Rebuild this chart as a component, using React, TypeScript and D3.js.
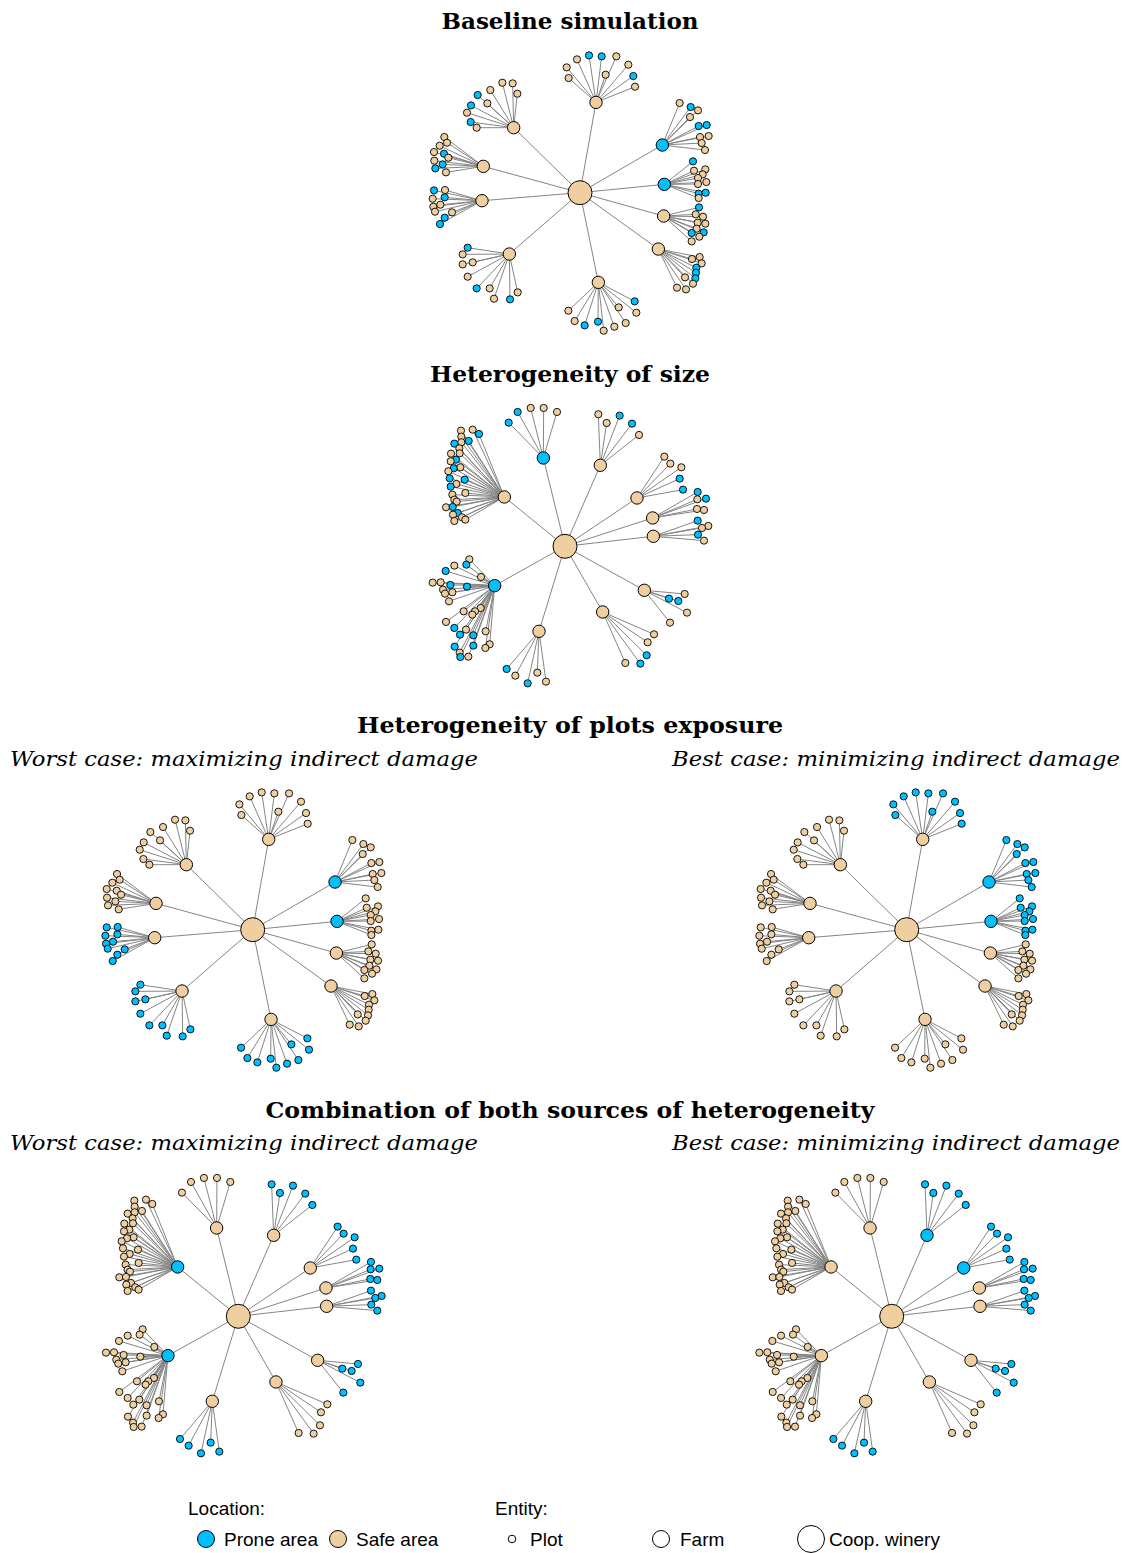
import React from "react";
import * as d3 from "d3";

const PRONE = "#00BFFF";
const SAFE = "#EFCF9F";
const EDGE = "#858585";

// ---- layout A: baseline network (layout units, centre = coop) ----
const baseCenter = [480, 443];
const baseFarms = [
  [528, 172], [281, 248], [190, 364], [186, 467], [268, 627],
  [535, 712], [715, 612], [731, 513], [733, 418], [727, 300],
];
const basePlots = [
  [[440, 67], [446, 99], [471, 43], [507, 31], [545, 34], [589, 34], [625, 59], [557, 89], [640, 93], [645, 125]],
  [[247, 113], [278, 115], [211, 135], [292, 146], [173, 150], [202, 175], [153, 181], [141, 203], [152, 231], [170, 248]],
  [[73, 276], [81, 293], [59, 302], [42, 321], [72, 326], [85, 338], [43, 347], [68, 358], [46, 370], [78, 382]],
  [[42, 436], [75, 435], [74, 457], [38, 461], [61, 479], [40, 485], [45, 500], [96, 502], [74, 518], [60, 537]],
  [[143, 608], [128, 628], [158, 652], [128, 658], [143, 695], [209, 730], [170, 730], [222, 761], [270, 763], [293, 742]],
  [[445, 797], [464, 828], [494, 841], [534, 830], [551, 857], [583, 845], [617, 834], [596, 787], [649, 803], [644, 769]],
  [[816, 642], [839, 636], [845, 655], [829, 668], [828, 683], [826, 700], [795, 697], [819, 716], [798, 733], [771, 728]],
  [[837, 487], [827, 508], [849, 515], [856, 536], [833, 533], [830, 551], [815, 564], [851, 562], [838, 575], [815, 589]],
  [[819, 349], [822, 377], [856, 373], [848, 388], [834, 399], [859, 411], [834, 417], [836, 446], [857, 443], [836, 459]],
  [[779, 174], [812, 186], [834, 196], [810, 216], [836, 243], [860, 240], [840, 276], [866, 273], [845, 294], [855, 315]],
];

// ---- layout B: heterogeneity of size ----
const sizeCenter = [435, 445];
const sizeFarms = [
  [253, 297], [370, 180], [541, 202], [651, 300], [698, 360],
  [700, 415], [673, 577], [548, 642], [357, 700], [224, 563],
];
const sizePlots = [
  [[123, 98], [158, 95], [177, 108], [124, 116], [103, 137], [124, 133], [146, 129], [118, 151], [93, 167], [119, 166],
   [108, 185], [92, 190], [121, 208], [101, 211], [85, 220], [134, 245], [89, 241], [109, 258], [92, 266], [136, 285],
   [97, 290], [103, 305], [110, 311], [78, 328], [98, 327], [113, 345], [99, 350], [126, 358], [136, 365], [103, 369]],
  [[266, 74], [293, 42], [332, 30], [371, 30], [411, 42]],
  [[535, 49], [560, 75], [599, 53], [636, 77], [657, 111]],
  [[733, 176], [751, 197], [784, 208], [779, 242], [789, 275]],
  [[833, 282], [858, 302], [832, 304], [831, 333], [852, 336]],
  [[833, 368], [865, 384], [846, 390], [834, 410], [852, 428]],
  [[794, 588], [747, 602], [775, 609], [801, 644], [750, 674]],
  [[702, 709], [683, 733], [680, 772], [661, 797], [616, 795]],
  [[260, 813], [286, 833], [323, 856], [352, 824], [378, 851]],
  [[148, 484], [103, 503], [139, 500], [77, 519], [183, 537], [38, 554], [62, 553], [91, 561], [141, 566], [69, 575],
   [97, 583], [75, 587], [87, 610], [131, 640], [182, 630], [165, 640], [157, 650], [78, 672], [103, 690], [138, 695],
   [120, 710], [160, 712], [197, 700], [104, 746], [160, 743], [209, 739], [196, 750], [119, 764], [121, 777], [145, 776]],
];

// ---- location (1 = prone area) per scenario ----
const baselineFarmProne = [0, 0, 0, 0, 0, 0, 0, 0, 1, 1];
const baselinePlotProne = [
  [0, 0, 0, 1, 1, 0, 0, 0, 1, 0],
  [0, 0, 0, 0, 1, 0, 1, 0, 1, 0],
  [0, 0, 0, 0, 1, 0, 0, 1, 1, 0],
  [1, 0, 1, 0, 0, 0, 0, 0, 1, 1],
  [1, 0, 0, 0, 0, 0, 1, 0, 1, 0],
  [0, 0, 1, 1, 0, 0, 0, 0, 0, 1],
  [0, 0, 0, 1, 1, 1, 0, 0, 0, 0],
  [1, 0, 0, 0, 0, 0, 1, 1, 0, 0],
  [1, 0, 0, 0, 0, 0, 0, 1, 1, 0],
  [0, 1, 0, 0, 1, 1, 0, 0, 0, 0],
];
const sizeFarmProne = [0, 1, 0, 0, 0, 0, 0, 0, 0, 1];
const sizePlotProne = [
  [0, 0, 1, 0, 1, 0, 1, 0, 0, 0, 1, 0, 0, 1, 0, 1, 1, 0, 1, 0, 0, 0, 0, 0, 1, 1, 0, 0, 0, 0],
  [1, 1, 0, 0, 0],
  [0, 0, 1, 1, 0],
  [0, 0, 0, 1, 1],
  [1, 1, 0, 0, 0],
  [1, 0, 0, 1, 0],
  [0, 1, 1, 0, 0],
  [0, 0, 1, 1, 0],
  [1, 0, 1, 0, 0],
  [0, 0, 1, 1, 0, 0, 0, 1, 1, 0, 0, 0, 0, 0, 0, 0, 0, 0, 1, 0, 1, 1, 0, 1, 1, 0, 0, 0, 1, 0],
];
// exposure scenarios: every plot of a farm shares one location
const exposureWorstFarmProne = [0, 0, 0, 0, 0, 0, 0, 0, 1, 1];
const exposureWorstPlotProne = [0, 0, 0, 1, 1, 1, 0, 0, 0, 0];
const exposureBestFarmProne = [0, 0, 0, 0, 0, 0, 0, 0, 1, 1];
const exposureBestPlotProne = [1, 0, 0, 0, 0, 0, 0, 0, 1, 1];
const combinedWorstFarmProne = [1, 0, 0, 0, 0, 0, 0, 0, 0, 1];
const combinedWorstPlotProne = [0, 0, 1, 1, 1, 1, 1, 0, 1, 0];
const combinedBestFarmProne = [0, 0, 1, 1, 0, 0, 0, 0, 0, 0];
const combinedBestPlotProne = [0, 0, 1, 1, 1, 1, 1, 0, 1, 0];

const titles = [
  { text: "Baseline simulation", y: 29, w: 257 },
  { text: "Heterogeneity of size", y: 382, w: 280 },
  { text: "Heterogeneity of plots exposure", y: 733, w: 426 },
  { text: "Combination of both sources of heterogeneity", y: 1118, w: 609 },
];
const subtitles = ["Worst case: maximizing indirect damage", "Best case: minimizing indirect damage"];

const uniform = (plots: number[][][], flags: number[]) => plots.map((p, i) => p.map(() => flags[i]));

type Net = {
  cx: number; cy: number; center: number[]; farms: number[][]; plots: number[][][];
  farmProne: number[]; plotProne: number[][];
};

const Network = ({ cx, cy, center, farms, plots, farmProne, plotProne }: Net) => {
  // 3 layout units = 1 pixel
  const x = d3.scaleLinear().domain([center[0], center[0] + 300]).range([cx, cx + 100]);
  const y = d3.scaleLinear().domain([center[1], center[1] + 300]).range([cy, cy + 100]);
  const fill = (p: number) => (p ? PRONE : SAFE);
  return (
    <g>
      {farms.map((f, i) => (
        <line key={"cf" + i} x1={x(center[0])} y1={y(center[1])} x2={x(f[0])} y2={y(f[1])} stroke={EDGE} strokeWidth={1} />
      ))}
      {plots.map((ps, i) =>
        ps.map((p, j) => (
          <line key={`fp${i}-${j}`} x1={x(farms[i][0])} y1={y(farms[i][1])} x2={x(p[0])} y2={y(p[1])} stroke={EDGE} strokeWidth={1} />
        ))
      )}
      {plots.map((ps, i) =>
        ps.map((p, j) => (
          <circle key={`p${i}-${j}`} cx={x(p[0])} cy={y(p[1])} r={3.6} fill={fill(plotProne[i][j])} stroke="#000" strokeWidth={0.9} />
        ))
      )}
      {farms.map((f, i) => (
        <circle key={"f" + i} cx={x(f[0])} cy={y(f[1])} r={6.2} fill={fill(farmProne[i])} stroke="#000" strokeWidth={1} />
      ))}
      <circle cx={x(center[0])} cy={y(center[1])} r={12} fill={SAFE} stroke="#000" strokeWidth={1} />
    </g>
  );
};

const App = () => {
  const serif = "'DejaVu Serif', serif";
  const sans = "'Liberation Sans', Arial, sans-serif";
  return (
    <svg width={1132} height={1553} style={{ position: "absolute", left: 0, top: 0, background: "#fff" }}>
      {titles.map((t) => (
        <text key={t.text} x={570} y={t.y} textAnchor="middle" fontFamily={serif} fontWeight="bold" fontSize={22}
          textLength={t.w} lengthAdjust="spacingAndGlyphs">{t.text}</text>
      ))}
      {[766, 1150].map((yy) => (
        <g key={yy} fontFamily={serif} fontStyle="italic" fontSize={21}>
          <text x={10} y={yy} textLength={468} lengthAdjust="spacingAndGlyphs">{subtitles[0]}</text>
          <text x={672} y={yy} textLength={448} lengthAdjust="spacingAndGlyphs">{subtitles[1]}</text>
        </g>
      ))}

      <Network cx={580} cy={192.7} center={baseCenter} farms={baseFarms} plots={basePlots}
        farmProne={baselineFarmProne} plotProne={baselinePlotProne} />
      <Network cx={565} cy={546.3} center={sizeCenter} farms={sizeFarms} plots={sizePlots}
        farmProne={sizeFarmProne} plotProne={sizePlotProne} />
      <Network cx={252.7} cy={929.7} center={baseCenter} farms={baseFarms} plots={basePlots}
        farmProne={exposureWorstFarmProne} plotProne={uniform(basePlots, exposureWorstPlotProne)} />
      <Network cx={906.7} cy={929.7} center={baseCenter} farms={baseFarms} plots={basePlots}
        farmProne={exposureBestFarmProne} plotProne={uniform(basePlots, exposureBestPlotProne)} />
      <Network cx={238.3} cy={1316.3} center={sizeCenter} farms={sizeFarms} plots={sizePlots}
        farmProne={combinedWorstFarmProne} plotProne={uniform(sizePlots, combinedWorstPlotProne)} />
      <Network cx={891.7} cy={1316.3} center={sizeCenter} farms={sizeFarms} plots={sizePlots}
        farmProne={combinedBestFarmProne} plotProne={uniform(sizePlots, combinedBestPlotProne)} />

      {/* legend */}
      <g fontFamily={sans} fontSize={19}>
        <text x={188} y={1515}>Location:</text>
        <circle cx={206} cy={1539} r={8.5} fill={PRONE} stroke="#000" />
        <text x={224} y={1546}>Prone area</text>
        <circle cx={338} cy={1539} r={8.5} fill={SAFE} stroke="#000" />
        <text x={356} y={1546}>Safe area</text>
        <text x={495} y={1515}>Entity:</text>
        <circle cx={512} cy={1539} r={3.8} fill="#fff" stroke="#000" />
        <text x={530} y={1546}>Plot</text>
        <circle cx={661} cy={1539} r={8.5} fill="#fff" stroke="#000" />
        <text x={680} y={1546}>Farm</text>
        <circle cx={811} cy={1539} r={13.5} fill="#fff" stroke="#000" />
        <text x={829} y={1546}>Coop. winery</text>
      </g>
    </svg>
  );
};

export default App;
